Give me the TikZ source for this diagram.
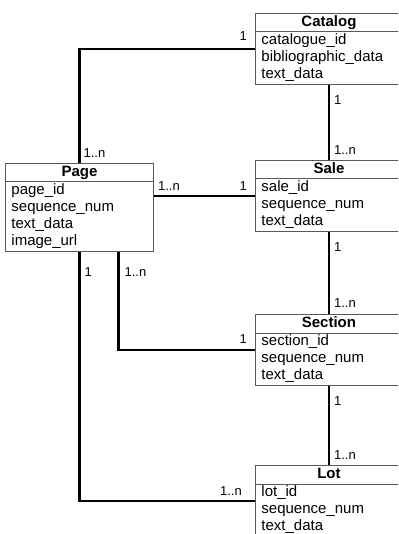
\documentclass[tikz,border=0pt]{standalone}
\usepackage{fontspec}
\setmainfont{Liberation Sans}
\usetikzlibrary{shapes.multipart}

\tikzset{
  entity/.style={rectangle split, rectangle split parts=2, draw=black!65,
    line width=0.9pt, anchor=north west, inner xsep=6pt, inner ysep=0.3pt,
    font=\fontsize{15}{17}\selectfont, text width=135pt},
  relation/.style={draw=black, line width=2.2pt},
  mult/.style={font=\fontsize{13}{13}\selectfont, inner sep=0pt}
}
% centred entity name in the top part
\newcommand{\entityname}[1]{\hbox to\hsize{\hss\textbf{#1}\strut\hss}}

\begin{document}
\begin{tikzpicture}[x=1pt,y=-1pt]
  \clip (0,0) rectangle (398,534);

  % entities
  \node[entity] (catalog) at (255,13) {\entityname{Catalog}
    \nodepart{two}\strut catalogue\_id\\\strut bibliographic\_data\\\strut text\_data};
  \node[entity, text width=136pt] (page) at (5,163) {\entityname{Page}
    \nodepart{two}\strut page\_id\\\strut sequence\_num\\\strut text\_data\\\strut image\_url};
  \node[entity] (sale) at (255,160) {\entityname{Sale}
    \nodepart{two}\strut sale\_id\\\strut sequence\_num\\\strut text\_data};
  \node[entity] (section) at (255,314) {\entityname{Section}
    \nodepart{two}\strut section\_id\\\strut sequence\_num\\\strut text\_data};
  \node[entity] (lot) at (255,465) {\entityname{Lot}
    \nodepart{two}\strut lot\_id\\\strut sequence\_num\\\strut text\_data};

  % relations
  \coordinate (page_sale) at (page.east |- sale.west);
  \coordinate (page_section) at ([xshift=39pt]page.south);
  \draw[relation] (catalog.west) -| (page.north);
  \draw[relation] (catalog.south) -- (sale.north);
  \draw[relation] (page_sale) -- (sale.west);
  \draw[relation] (sale.south) -- (section.north);
  \draw[relation] (page_section) |- (section.west);
  \draw[relation] (section.south) -- (lot.north);
  \draw[relation] (page.south) |- (lot.west);

  % multiplicities
  \node[mult, anchor=south east] (catalog_page_one) at ([xshift=-8pt,yshift=8pt]catalog.west) {1};
  \node[mult, anchor=south west] (catalog_page_many) at ([xshift=4pt,yshift=5pt]page.north) {1..n};
  \node[mult, anchor=north west] (catalog_sale_one) at ([xshift=5pt,yshift=-10pt]catalog.south) {1};
  \node[mult, anchor=south west] (catalog_sale_many) at ([xshift=5pt,yshift=5pt]sale.north) {1..n};
  \node[mult, anchor=south west] (page_sale_many) at ([xshift=4pt,yshift=5.5pt]page_sale) {1..n};
  \node[mult, anchor=south east] (page_sale_one) at ([xshift=-8pt,yshift=5.5pt]sale.west) {1};
  \node[mult, anchor=north west] (sale_section_one) at ([xshift=5pt,yshift=-10pt]sale.south) {1};
  \node[mult, anchor=south west] (sale_section_many) at ([xshift=5pt,yshift=6pt]section.north) {1..n};
  \node[mult, anchor=north west] (page_section_many) at ([xshift=6pt,yshift=-15pt]page_section) {1..n};
  \node[mult, anchor=south east] (page_section_one) at ([xshift=-8pt,yshift=6pt]section.west) {1};
  \node[mult, anchor=north west] (section_lot_one) at ([xshift=5pt,yshift=-10pt]section.south) {1};
  \node[mult, anchor=south west] (section_lot_many) at ([xshift=5pt,yshift=5pt]lot.north) {1..n};
  \node[mult, anchor=north west] (page_lot_one) at ([xshift=5pt,yshift=-15pt]page.south) {1};
  \node[mult, anchor=south east] (page_lot_many) at ([xshift=-13pt,yshift=5pt]lot.west) {1..n};
\end{tikzpicture}
\end{document}
